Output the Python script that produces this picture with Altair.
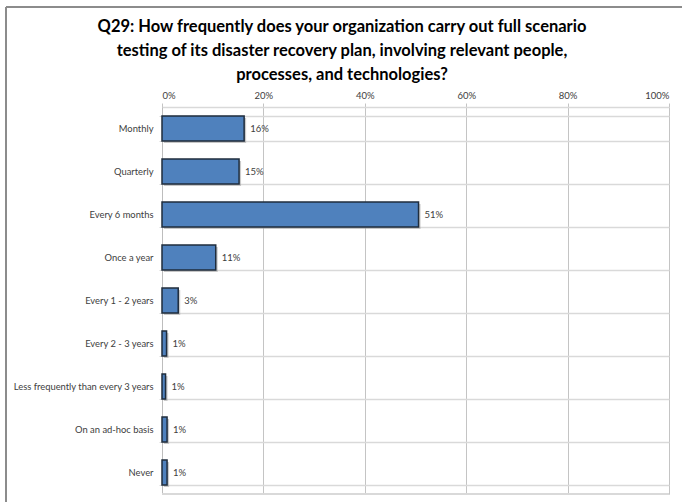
import altair as alt
import pandas as pd

categories = [
    "Monthly",
    "Quarterly",
    "Every 6 months",
    "Once a year",
    "Every 1 - 2 years",
    "Every 2 - 3 years",
    "Less frequently than every 3 years",
    "On an ad-hoc basis",
    "Never",
]
values = [16.2, 15.2, 50.6, 10.6, 3.2, 0.9, 0.7, 1.0, 1.0]
labels = ["16%", "15%", "51%", "11%", "3%", "1%", "1%", "1%", "1%"]
x_ticks = [0, 20, 40, 60, 80, 100]

title_lines = [
    "Q29: How frequently does your organization carry out full scenario",
    "testing of its disaster recovery plan, involving relevant people,",
    "processes, and technologies?",
]

df = pd.DataFrame({"category": categories, "value": values, "label": labels})

FONT = "Lato"
W, H = 507, 387

x_enc = alt.X(
    "value:Q",
    scale=alt.Scale(domain=[0, 100], nice=False),
    axis=alt.Axis(
        orient="top",
        values=x_ticks,
        labelExpr="datum.value + '%'",
        title=None,
        grid=True,
        gridColor="#c4c4c4",
        gridWidth=1,
        domainColor="#d9d9d9",
        domainWidth=1.5,
        ticks=True,
        tickColor="#c4c4c4",
        tickSize=4,
        labelFont=FONT,
        labelFontSize=9.5,
        labelColor="#404040",
        labelPadding=3,
    ),
)
y_enc = alt.Y(
    "category:N",
    sort=categories,
    scale=alt.Scale(paddingInner=0.42, paddingOuter=0.21),
    axis=alt.Axis(
        title=None,
        grid=True,
        bandPosition=0,
        gridColor="#d9d9d9",
        gridWidth=1.5,
        domainColor="#bdbdbd",
        domainWidth=1,
        ticks=True,
        tickBand="extent",
        tickColor="#d9d9d9",
        tickSize=3,
        labelFont=FONT,
        labelFontSize=9.4,
        labelColor="#404040",
        labelPadding=6,
        labelLimit=300,
    ),
)

base = alt.Chart(df)

shadow = base.mark_bar(color="#8c8c8c", opacity=0.45, xOffset=2, yOffset=2).encode(
    x=x_enc, y=y_enc
)
bars = base.mark_bar(color="#4F81BD", stroke="#1f2d3d", strokeWidth=1.5).encode(
    x=x_enc, y=y_enc
)
text = base.mark_text(
    align="left", baseline="middle", dx=6, font=FONT, fontSize=9.5, color="#404040"
).encode(x="value:Q", y=alt.Y("category:N", sort=categories), text="label:N")

bottom_line = base.mark_rule(color="#d9d9d9", strokeWidth=1.5).encode(
    x=alt.value(0), x2=alt.value(W), y=alt.value(H)
)
frame_top = base.mark_rule(color="#8c8c8c", strokeWidth=1.5).encode(
    x=alt.value(-156), x2=alt.value(520), y=alt.value(-100)
)
frame_left = base.mark_rule(color="#8c8c8c", strokeWidth=1.5).encode(
    x=alt.value(-156), y=alt.value(-100), y2=alt.value(400)
)

title_layers = []
for i, line in enumerate(title_lines):
    title_layers.append(
        alt.Chart(pd.DataFrame({"t": [line]}))
        .mark_text(
            font=FONT,
            fontSize=16.5,
            fontWeight="bold",
            color="#000000",
            align="center",
            baseline="middle",
        )
        .encode(text="t:N", x=alt.value(180), y=alt.value(-80 + 24 * i))
    )

chart = (
    alt.layer(bottom_line, shadow, bars, text, frame_top, frame_left, *title_layers)
    .properties(
        width=W,
        height=H,
        autosize=alt.AutoSizeParams(type="none"),
        padding={"left": 162, "top": 107, "right": 13, "bottom": 8},
    )
    .configure_view(stroke=None)
    .configure(background="white")
)

chart.save("out.html", embed_options={"renderer": "svg", "actions": False})
